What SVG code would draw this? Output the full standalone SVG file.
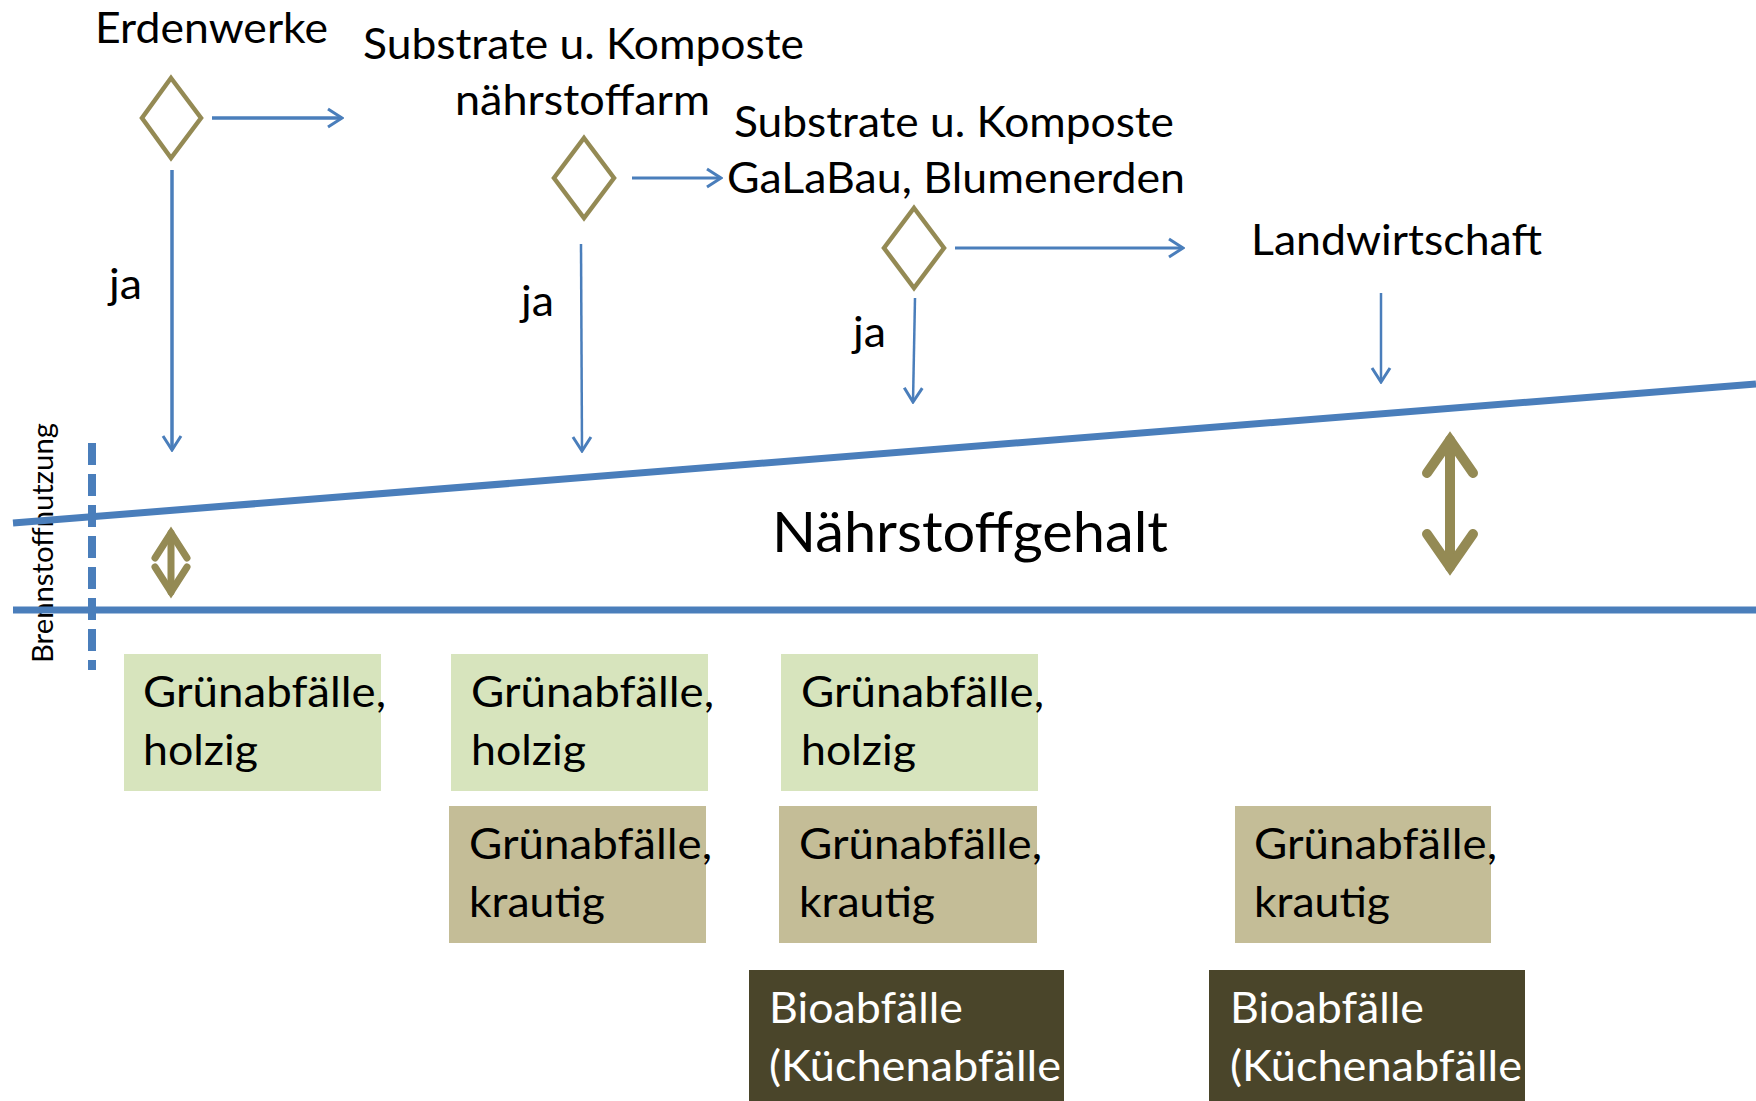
<svg xmlns="http://www.w3.org/2000/svg" width="1756" height="1101" viewBox="0 0 1756 1101">
<defs>
<style>
.t{font-family:Lato,"Open Sans","Liberation Sans",sans-serif;font-size:43px;fill:#000}
.w{fill:#fff}
.big{font-size:56px}
.small{font-size:28px}
.dia{fill:none;stroke:#948A54;stroke-width:4.5;stroke-linejoin:miter}
.ln{fill:none;stroke:#4A7EBB}
.dbl{fill:none;stroke:#948A54;stroke-linejoin:miter;stroke-linecap:round}
.g{fill:#D7E4BD}
.k{fill:#C4BD97}
.b{fill:#4A452A}
</style>
<marker id="ah" viewBox="0 0 18 22" refX="16" refY="11" markerWidth="18" markerHeight="22" markerUnits="userSpaceOnUse" orient="auto">
<polyline points="2,2 16,11 2,20" fill="none" stroke="#4A7EBB" stroke-width="3"/>
</marker>
</defs>
<rect width="1756" height="1101" fill="#fff"/>

<g id="labels">
<text class="t" x="95" y="43" textLength="233" lengthAdjust="spacingAndGlyphs">Erdenwerke</text>
<text class="t" x="363" y="59" textLength="441" lengthAdjust="spacingAndGlyphs">Substrate u. Komposte</text>
<text class="t" x="455" y="115" textLength="255" lengthAdjust="spacingAndGlyphs">nährstoffarm</text>
<text class="t" x="734" y="137" textLength="440" lengthAdjust="spacingAndGlyphs">Substrate u. Komposte</text>
<text class="t" x="727" y="193" textLength="458" lengthAdjust="spacingAndGlyphs">GaLaBau, Blumenerden</text>
<text class="t" x="1251" y="255" textLength="291" lengthAdjust="spacingAndGlyphs">Landwirtschaft</text>
<text class="t" x="109" y="299" textLength="33" lengthAdjust="spacingAndGlyphs">ja</text>
<text class="t" x="521" y="316" textLength="33" lengthAdjust="spacingAndGlyphs">ja</text>
<text class="t" x="853" y="347" textLength="33" lengthAdjust="spacingAndGlyphs">ja</text>
<text class="t big" x="772" y="552" textLength="396" lengthAdjust="spacingAndGlyphs">Nährstoffgehalt</text>
<text class="t small" transform="translate(53,663) rotate(-90)" textLength="240" lengthAdjust="spacingAndGlyphs">Brennstoffnutzung</text>
</g>

<g id="decision1"><polygon class="dia" points="171,78 201,118 171,158 142,118"/></g>
<g id="decision2"><polygon class="dia" points="584,138 614,178 584,218 554,178"/></g>
<g id="decision3"><polygon class="dia" points="914,208 944,248 914,288 884,248"/></g>

<g id="connectors">
<line class="ln" x1="212" y1="118" x2="342" y2="118" stroke-width="3.5" marker-end="url(#ah)"/>
<line class="ln" x1="632" y1="178" x2="721" y2="178" stroke-width="3" marker-end="url(#ah)"/>
<line class="ln" x1="955" y1="248" x2="1183" y2="248" stroke-width="3" marker-end="url(#ah)"/>
<line class="ln" x1="172" y1="170" x2="172" y2="450" stroke-width="3.5" marker-end="url(#ah)"/>
<line class="ln" x1="581" y1="244" x2="582" y2="451" stroke-width="2.5" marker-end="url(#ah)"/>
<line class="ln" x1="915" y1="298" x2="913" y2="402" stroke-width="2.5" marker-end="url(#ah)"/>
<line class="ln" x1="1381" y1="293" x2="1381" y2="382" stroke-width="2.5" marker-end="url(#ah)"/>
</g>

<g id="axes">
<line class="ln" x1="13" y1="523" x2="1756" y2="384" stroke-width="7"/>
<line class="ln" x1="13" y1="610" x2="1756" y2="610" stroke-width="7"/>
<line class="ln" x1="92" y1="443" x2="92" y2="670" stroke-width="8" stroke-dasharray="22 9"/>
</g>

<g id="range-left">
<line class="dbl" x1="171" y1="533" x2="171" y2="592" stroke-width="7"/>
<polyline class="dbl" points="155,558 171,533 187,558" stroke-width="7"/>
<polyline class="dbl" points="155,567 171,592 187,567" stroke-width="7"/>
</g>
<g id="range-right">
<line class="dbl" x1="1450" y1="440" x2="1450" y2="567" stroke-width="10"/>
<polyline class="dbl" points="1427,473 1450,440 1473,473" stroke-width="10"/>
<polyline class="dbl" points="1427,534 1450,567 1473,534" stroke-width="10"/>
</g>

<g id="holzig1"><rect class="g" x="124" y="654" width="257" height="137"/>
<text class="t" x="143" y="707" textLength="243" lengthAdjust="spacingAndGlyphs">Grünabfälle,</text>
<text class="t" x="143" y="765" textLength="115" lengthAdjust="spacingAndGlyphs">holzig</text></g>
<g id="holzig2"><rect class="g" x="451" y="654" width="257" height="137"/>
<text class="t" x="471" y="707" textLength="243" lengthAdjust="spacingAndGlyphs">Grünabfälle,</text>
<text class="t" x="471" y="765" textLength="115" lengthAdjust="spacingAndGlyphs">holzig</text></g>
<g id="holzig3"><rect class="g" x="781" y="654" width="257" height="137"/>
<text class="t" x="801" y="707" textLength="243" lengthAdjust="spacingAndGlyphs">Grünabfälle,</text>
<text class="t" x="801" y="765" textLength="115" lengthAdjust="spacingAndGlyphs">holzig</text></g>

<g id="krautig1"><rect class="k" x="449" y="806" width="257" height="137"/>
<text class="t" x="469" y="859" textLength="243" lengthAdjust="spacingAndGlyphs">Grünabfälle,</text>
<text class="t" x="469" y="917" textLength="136" lengthAdjust="spacingAndGlyphs">krautig</text></g>
<g id="krautig2"><rect class="k" x="779" y="806" width="258" height="137"/>
<text class="t" x="799" y="859" textLength="243" lengthAdjust="spacingAndGlyphs">Grünabfälle,</text>
<text class="t" x="799" y="917" textLength="136" lengthAdjust="spacingAndGlyphs">krautig</text></g>
<g id="krautig3"><rect class="k" x="1235" y="806" width="256" height="137"/>
<text class="t" x="1254" y="859" textLength="243" lengthAdjust="spacingAndGlyphs">Grünabfälle,</text>
<text class="t" x="1254" y="917" textLength="136" lengthAdjust="spacingAndGlyphs">krautig</text></g>

<g id="bio1"><rect class="b" x="749" y="970" width="315" height="131"/>
<text class="t w" x="769" y="1023" textLength="194" lengthAdjust="spacingAndGlyphs">Bioabfälle</text>
<text class="t w" x="769" y="1081" textLength="292" lengthAdjust="spacingAndGlyphs">(Küchenabfälle</text></g>
<g id="bio2"><rect class="b" x="1209" y="970" width="316" height="131"/>
<text class="t w" x="1230" y="1023" textLength="194" lengthAdjust="spacingAndGlyphs">Bioabfälle</text>
<text class="t w" x="1230" y="1081" textLength="292" lengthAdjust="spacingAndGlyphs">(Küchenabfälle</text></g>
</svg>
